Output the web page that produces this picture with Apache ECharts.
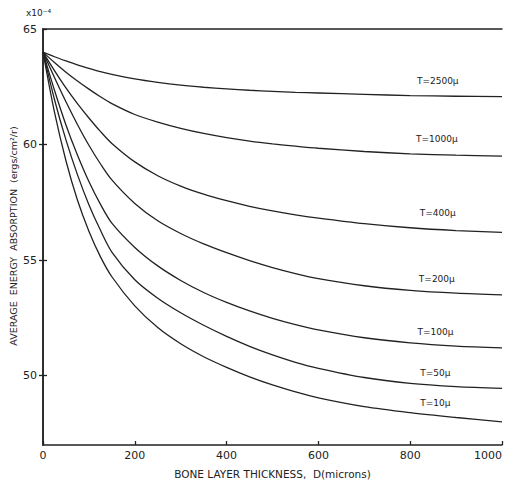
<!DOCTYPE html>
<html><head><meta charset="utf-8">
<script src="https://cdn.jsdelivr.net/npm/echarts@6/dist/echarts.min.js"></script>
<style>html,body{margin:0;padding:0;background:#fff}#c{width:511px;height:483px}</style>
</head><body><div id="c"></div>
<script>
// Bone layer thickness D (microns)
const D = [0, 25, 50, 75, 100, 125, 150, 200, 250, 300, 350, 400, 450, 500, 550, 600, 700, 800, 900, 1000];
// Average energy absorption (x10^-4 ergs/cm^2/r) for each tissue thickness T
const T2500 = [64, 63.8, 63.62, 63.45, 63.3, 63.16, 63.04, 62.84, 62.69, 62.57, 62.48, 62.41, 62.35, 62.3, 62.26, 62.23, 62.17, 62.12, 62.09, 62.07];
const T1000 = [64, 63.55, 63.13, 62.75, 62.4, 62.07, 61.77, 61.3, 60.97, 60.7, 60.48, 60.3, 60.15, 60.03, 59.93, 59.84, 59.7, 59.6, 59.54, 59.5];
const T400  = [64, 63.2, 62.45, 61.77, 61.15, 60.57, 60.05, 59.25, 58.65, 58.2, 57.85, 57.57, 57.33, 57.13, 56.96, 56.82, 56.58, 56.4, 56.28, 56.2];
const T200  = [64, 62.9, 61.85, 60.87, 59.97, 59.17, 58.47, 57.45, 56.7, 56.15, 55.7, 55.32, 54.98, 54.68, 54.42, 54.2, 53.89, 53.69, 53.57, 53.5];
const T100  = [64, 62.35, 60.85, 59.55, 58.4, 57.42, 56.6, 55.55, 54.75, 54.12, 53.6, 53.17, 52.8, 52.48, 52.21, 51.98, 51.64, 51.42, 51.28, 51.2];
const T50   = [64, 61.95, 60.2, 58.7, 57.4, 56.3, 55.35, 54.15, 53.35, 52.72, 52.18, 51.7, 51.27, 50.9, 50.58, 50.32, 49.92, 49.67, 49.53, 49.45];
const T10   = [64, 61.4, 59.3, 57.6, 56.25, 55.15, 54.28, 53.02, 52.08, 51.38, 50.82, 50.36, 49.95, 49.6, 49.3, 49.04, 48.66, 48.4, 48.19, 48.0];

const curveNames = ['T=2500\u03bc', 'T=1000\u03bc', 'T=400\u03bc', 'T=200\u03bc', 'T=100\u03bc', 'T=50\u03bc', 'T=10\u03bc'];
const curves = [T2500, T1000, T400, T200, T100, T50, T10];
// label anchor positions (D, value)
const labelD = [860, 858, 860, 858, 855, 855, 855];
const labelV = [62.75, 60.24, 57.03, 54.18, 51.9, 50.1, 48.8];

const xTicks = [0, 200, 400, 600, 800, 1000];
const yTicks = [50, 55, 60, 65];

const FONT = 'DejaVu Sans, Liberation Sans, sans-serif';
const INK = '#222';

const chart = echarts.init(document.getElementById('c'), null, {renderer: 'svg'});
const series = curves.map((vals, i) => ({
  type: 'line',
  name: curveNames[i],
  data: D.map((d, j) => [d, vals[j]]),
  smooth: 0.3,
  showSymbol: false,
  lineStyle: {color: INK, width: 1.3},
  z: 3,
  markPoint: {
    symbol: 'circle', symbolSize: 0, silent: true,
    data: [{coord: [labelD[i], labelV[i]], value: curveNames[i]}],
    label: {show: true, position: 'inside', formatter: curveNames[i], color: INK,
      fontFamily: FONT, fontSize: 9}
  }
}));

chart.setOption({
  animation: false,
  backgroundColor: '#fff',
  grid: {left: 43, right: 9, top: 29, bottom: 38, show: false, outerBoundsMode: 'none', containLabel: false},
  xAxis: [{
    type: 'value', min: 0, max: 1000, interval: 200,
    axisLine: {show: true, onZero: false, lineStyle: {color: INK, width: 1.5}},
    axisTick: {show: true, inside: true, length: 4, lineStyle: {color: INK, width: 1.3}},
    axisLabel: {color: INK, fontFamily: FONT, fontSize: 11, margin: 5, alignMaxLabel: 'right',
      customValues: xTicks, formatter: v => String(v)},
    splitLine: {show: false},
    name: 'BONE LAYER THICKNESS,  D(microns)', nameLocation: 'middle', nameGap: 23,
    nameTextStyle: {color: INK, fontFamily: FONT, fontSize: 10.5}
  }, {
    type: 'value', min: 0, max: 1000, position: 'top',
    axisLine: {show: true, lineStyle: {color: INK, width: 1.5}},
    axisTick: {show: false}, axisLabel: {show: false}, splitLine: {show: false}
  }],
  yAxis: [{
    type: 'value', min: 47, max: 65,
    axisLine: {show: true, onZero: false, lineStyle: {color: INK, width: 1.5}},
    axisTick: {show: true, inside: true, length: 4, customValues: yTicks, lineStyle: {color: INK, width: 1.3}},
    axisLabel: {color: INK, fontFamily: FONT, fontSize: 11, margin: 6, customValues: yTicks},
    splitLine: {show: false}
  }, {
    type: 'value', min: 47, max: 65, position: 'right',
    axisLine: {show: true, lineStyle: {color: INK, width: 1.5}},
    axisTick: {show: true, inside: true, length: 4, customValues: [50, 55, 60], lineStyle: {color: INK, width: 1.3}},
    axisLabel: {show: false}, splitLine: {show: false}
  }],
  graphic: [
    {type: 'text', left: 26, top: 8, style: {text: 'x10\u207b\u2074', font: '9px ' + FONT, fill: INK}},
    {type: 'text', x: 13, y: 236, rotation: Math.PI / 2,
      style: {text: 'AVERAGE  ENERGY  ABSORPTION  (ergs/cm\u00b2/r)', font: '9.5px ' + FONT, fill: INK,
        align: 'center', verticalAlign: 'middle'}}
  ],
  series: series
});
</script>
</body></html>
